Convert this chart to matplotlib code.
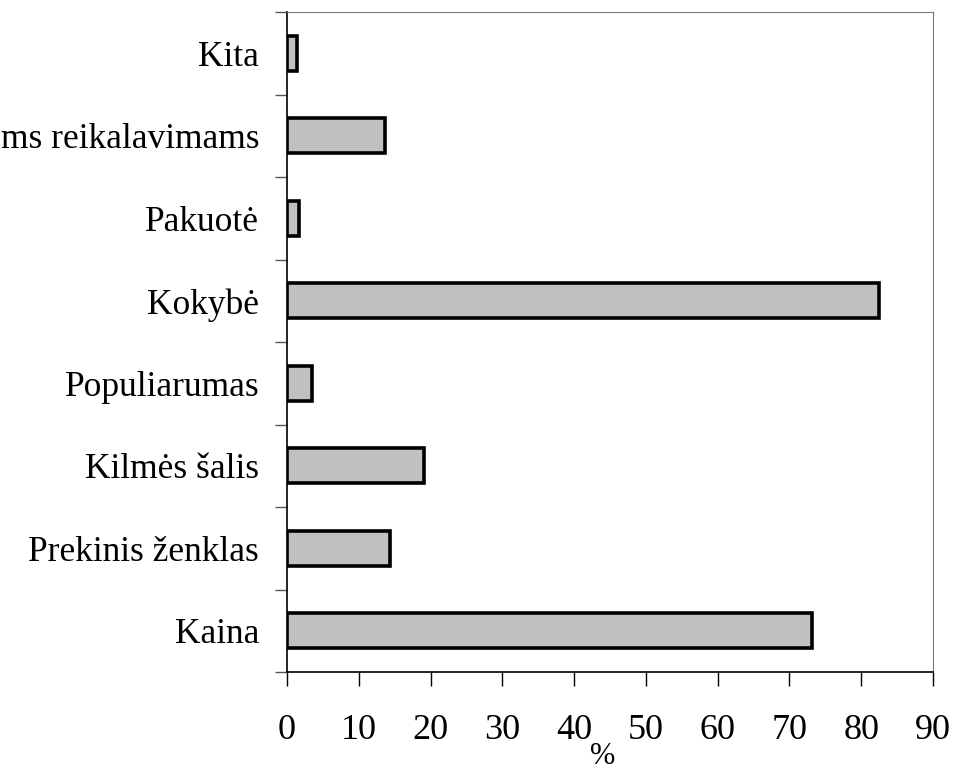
import matplotlib.pyplot as plt
from matplotlib.ticker import FixedLocator

# Data (bottom to top)
categories = ["Kaina", "Prekinis ženklas", "Kilmės šalis", "Populiarumas",
              "Kokybė", "Pakuotė", "ms reikalavimams", "Kita"]
values = [73.1, 14.3, 19.1, 3.5, 82.5, 1.7, 13.6, 1.35]
xticks = [0, 10, 20, 30, 40, 50, 60, 70, 80, 90]

plt.rcParams['font.family'] = ['Liberation Serif', 'DejaVu Serif']

fig = plt.figure(figsize=(9.54, 7.71), dpi=100)
ax = fig.add_axes([287 / 954, 1 - 672 / 771, (933 - 287) / 954, (672 - 12) / 771])

pos = list(range(len(categories)))
ax.barh(pos, values, height=0.42, color='#c0c0c0', edgecolor='black', linewidth=2.6)

ax.set_xlim(0, 90)
ax.set_ylim(-0.5, len(categories) - 0.5)
ax.set_xticks(xticks)
ax.set_xticklabels([str(t) for t in xticks])
ax.set_yticks(pos)
ax.set_yticklabels(categories)
ax.yaxis.set_minor_locator(FixedLocator([p - 0.5 for p in range(len(categories) + 1)]))

ax.tick_params(axis='x', direction='out', length=10, width=1, pad=20, labelsize=26)
ax.tick_params(axis='y', which='major', length=0, pad=20, labelsize=25.5)
ax.tick_params(axis='y', which='minor', direction='out', length=8.6, width=1, color='#555555')

ax.spines['left'].set_color('black')
ax.spines['bottom'].set_color('black')
ax.spines['left'].set_linewidth(1.2)
ax.spines['bottom'].set_linewidth(1.2)
ax.spines['top'].set_color('#777777')
ax.spines['right'].set_color('#777777')

fig.text(603 / 954, 1 - 756 / 771, "%", fontsize=22, ha='center', va='center')

fig.savefig("out.png", dpi=100)
